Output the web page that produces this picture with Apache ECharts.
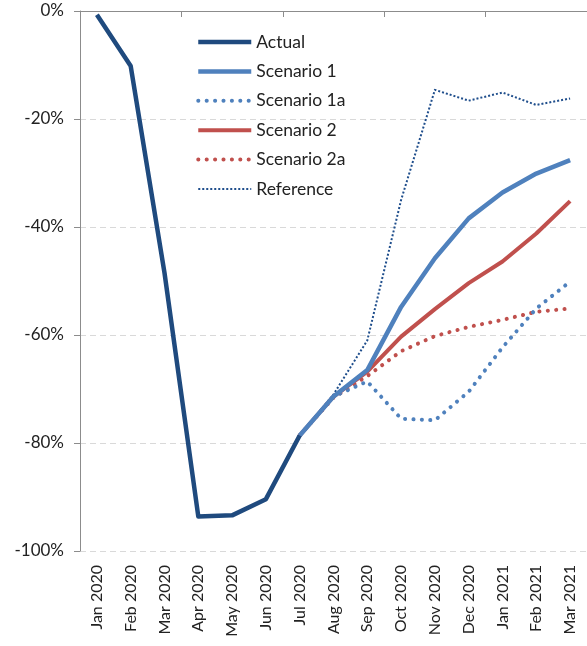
<!DOCTYPE html>
<html>
<head>
<meta charset="utf-8">
<style>
  html, body { margin: 0; padding: 0; background: #fff; }
  #chart { width: 587px; height: 646px; }
</style>
<script src="https://cdn.jsdelivr.net/npm/echarts@6/dist/echarts.min.js"></script>
</head>
<body>
<div id="chart"></div>
<script>
// 月份
const months = ['Jan 2020', 'Feb 2020', 'Mar 2020', 'Apr 2020', 'May 2020', 'Jun 2020', 'Jul 2020',
  'Aug 2020', 'Sep 2020', 'Oct 2020', 'Nov 2020', 'Dec 2020', 'Jan 2021', 'Feb 2021', 'Mar 2021'];

// 各系列数值 (%)
const actual = [-0.7, -10.2, -48.5, -93.6, -93.4, -90.4, -78.6, null, null, null, null, null, null, null, null];
const scenario1 = [null, null, null, null, null, null, -78.6, -71.4, -66.5, -54.8, -45.8, -38.4, -33.6, -30.1, -27.6];
const scenario1a = [null, null, null, null, null, null, -78.6, -71.4, -68.6, -75.5, -75.8, -70.5, -62.3, -55.1, -50.1];
const scenario2 = [null, null, null, null, null, null, -78.6, -71.4, -66.8, -60.3, -55.2, -50.4, -46.4, -41.2, -35.2];
const scenario2a = [null, null, null, null, null, null, -78.6, -71.6, -67.6, -63.0, -60.2, -58.5, -57.2, -55.7, -55.1];
const reference = [null, null, null, null, null, null, -78.6, -71.0, -61.0, -35.0, -14.6, -16.6, -15.1, -17.4, -16.2];

const yTicks = { min: -100, max: 0, interval: 20 };

const FONT = 'Lato';
const myChart = echarts.init(document.getElementById('chart'));

function line(name, data, color, width, type, cap) {
  return {
    name,
    type: 'line',
    data,
    xAxisIndex: 0,
    symbol: 'none',
    connectNulls: false,
    lineStyle: { color, width, type, cap: cap || 'butt', join: 'round' },
    itemStyle: { color },
    z: 2
  };
}

const option = {
  animation: false,
  grid: { left: 80, right: -8, top: 11, bottom: 95 },
  legend: {
    orient: 'vertical',
    left: 196,
    top: 33,
    padding: 0,
    itemWidth: 53,
    itemHeight: 14,
    itemGap: 11.4,
    itemStyle: { opacity: 0 },
    lineStyle: { width: 'inherit' },
    textStyle: { fontFamily: FONT, fontSize: 17.5, lineHeight: 14, color: '#222' },
    data: ['Actual', 'Scenario 1', 'Scenario 1a', 'Scenario 2', 'Scenario 2a', 'Reference']
  },
  xAxis: [
    {
      type: 'category',
      data: months,
      position: 'bottom',
      boundaryGap: true,
      axisLine: { show: false },
      axisTick: { show: false },
      axisLabel: { rotate: 90, margin: 14, fontFamily: FONT, fontSize: 16, color: '#222', interval: 0 }
    },
    {
      type: 'category',
      data: months,
      position: 'top',
      boundaryGap: true,
      axisLine: { show: true, lineStyle: { color: '#8c8c8c', width: 1 } },
      axisTick: { show: true, inside: true, length: 6, lineStyle: { color: '#8c8c8c' } },
      axisLabel: { show: false }
    }
  ],
  yAxis: {
    type: 'value',
    min: yTicks.min,
    max: yTicks.max,
    interval: yTicks.interval,
    axisLine: { show: true, lineStyle: { color: '#8c8c8c', width: 1 } },
    axisTick: { show: true, length: 6, lineStyle: { color: '#8c8c8c' } },
    axisLabel: { margin: 16, fontFamily: FONT, fontSize: 17, color: '#222', formatter: '{value}%' },
    splitLine: { show: true, lineStyle: { color: '#d9d9d9', type: [6, 4], width: 1 } }
  },
  series: [
    line('Reference', reference, '#1f4e8c', 2, [2, 2]),
    line('Scenario 2a', scenario2a, '#c0504d', 4, [0.1, 8.3], 'round'),
    line('Scenario 1a', scenario1a, '#4f81bd', 4, [0.1, 8.3], 'round'),
    line('Scenario 2', scenario2, '#c0504d', 4, 'solid'),
    line('Scenario 1', scenario1, '#4f81bd', 4.5, 'solid'),
    line('Actual', actual, '#1f4a7e', 4.5, 'solid')
  ]
};
// 使用刚指定的配置项和数据显示图表。
myChart.setOption(option);
</script>
</body>
</html>
